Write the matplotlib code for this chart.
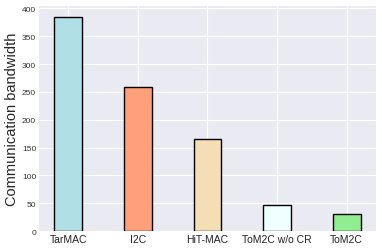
import matplotlib
matplotlib.use('Agg')
import matplotlib.pyplot as plt

plt.style.use('seaborn-v0_8-darkgrid')
plt.rcParams['font.family'] = ['Liberation Sans', 'DejaVu Sans']

methods = ['TarMAC', 'I2C', 'HiT-MAC', 'ToM2C w/o CR', 'ToM2C']
bandwidth = [385, 259, 165, 47, 31]
colors = ['powderblue', 'lightsalmon', 'wheat', 'azure', 'lightgreen']

fig = plt.figure(figsize=(3.82, 2.53), dpi=100)
ax = fig.add_axes([0.102, 0.083, 0.882, 0.889])
ax.bar(range(len(methods)), bandwidth, width=0.4, color=colors,
       edgecolor='black', linewidth=1)
ax.set_xticks(range(len(methods)))
ax.set_xticklabels(methods, fontsize=7.5, color='#222222')
ax.tick_params(axis='y', labelsize=6, pad=2, labelcolor='#333333')
ax.tick_params(axis='x', pad=2)
ax.set_ylabel('Communication bandwidth', fontsize=10.5, labelpad=2)

fig.savefig('out.png', dpi=100)
